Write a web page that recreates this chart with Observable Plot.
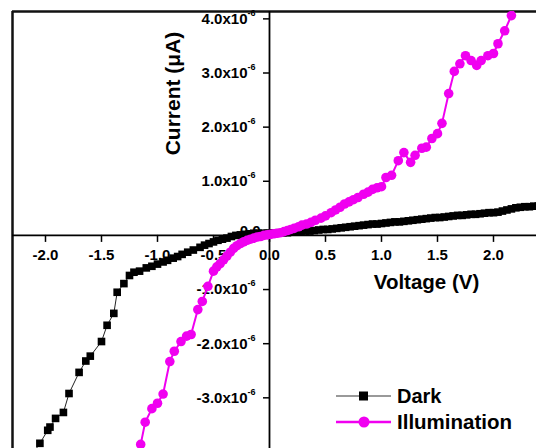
<!DOCTYPE html>
<html><head><meta charset="utf-8">
<script src="https://cdn.jsdelivr.net/npm/d3@7"></script>
<script src="https://cdn.jsdelivr.net/npm/@observablehq/plot@0.6"></script>
<style>
body{margin:0;background:#fff}
#chart{position:relative;width:536px;height:448px;overflow:hidden}
</style>
</head><body><div id="chart"></div>
<script>
// Dark I-V (voltage V, current in units of 1e-6)
const darkV = [-2.12,-2.05,-1.98,-1.96,-1.91,-1.84,-1.79,-1.70,-1.64,-1.60,-1.50,-1.45,-1.39,-1.36,-1.30,-1.25,-1.21,-1.16,-1.10,-1.05,-1.00,-0.95,-0.91,-0.86,-0.82,-0.78,-0.73,-0.68,-0.62,-0.58,-0.54,-0.50,-0.46,-0.42,-0.38,-0.34,-0.30,-0.26,-0.22,-0.18,-0.14,-0.10,-0.06,-0.02,
  0.00,0.04,0.08,0.12,0.16,0.20,0.24,0.28,0.32,0.36,0.40,0.44,0.48,0.52,0.56,0.60,0.64,0.68,0.72,0.76,0.80,0.84,0.88,0.92,0.96,1.00,1.04,1.08,1.12,1.16,1.20,1.24,1.28,1.32,1.36,1.40,1.44,1.48,1.52,1.56,1.60,1.64,1.68,1.72,1.76,1.80,1.84,1.88,1.92,1.96,2.00,2.04,2.08,2.12,2.16,2.20,2.24,2.28,2.32,2.36,2.40];
const darkI = [-4.05,-3.84,-3.60,-3.54,-3.38,-3.27,-2.92,-2.53,-2.32,-2.23,-1.96,-1.66,-1.44,-1.05,-0.89,-0.74,-0.68,-0.66,-0.60,-0.57,-0.53,-0.49,-0.46,-0.42,-0.39,-0.35,-0.31,-0.27,-0.22,-0.18,-0.15,-0.12,-0.09,-0.07,-0.05,-0.02,0.00,0.01,0.02,0.03,0.04,0.04,0.04,0.04,
  0.04,0.04,0.05,0.05,0.05,0.06,0.06,0.07,0.08,0.08,0.09,0.10,0.11,0.11,0.12,0.13,0.14,0.15,0.16,0.17,0.18,0.19,0.20,0.21,0.21,0.22,0.23,0.24,0.25,0.25,0.26,0.27,0.28,0.29,0.30,0.31,0.32,0.33,0.33,0.34,0.35,0.36,0.37,0.37,0.38,0.39,0.39,0.40,0.41,0.42,0.42,0.43,0.45,0.47,0.49,0.51,0.52,0.53,0.53,0.54,0.54];

// Illumination I-V (voltage V, current in units of 1e-6)
const illumV = [-1.20,-1.15,-1.11,-1.05,-1.00,-0.95,-0.89,-0.85,-0.79,-0.74,-0.70,-0.64,-0.60,-0.55,-0.50,-0.47,-0.44,-0.41,-0.38,-0.35,-0.32,-0.29,-0.26,-0.23,-0.20,-0.17,-0.14,-0.11,-0.08,-0.05,-0.02,
  0.01,0.04,0.07,0.10,0.13,0.16,0.19,0.22,0.26,0.29,0.33,0.37,0.41,0.46,0.50,0.55,0.59,0.63,0.67,0.71,0.75,0.79,0.84,0.88,0.92,0.96,1.00,1.04,1.09,1.15,1.20,1.26,1.30,1.36,1.40,1.45,1.50,1.54,1.60,1.65,1.70,1.75,1.80,1.85,1.89,1.95,2.00,2.04,2.10,2.16,2.22];
const illumI = [-4.40,-3.86,-3.45,-3.20,-3.10,-2.93,-2.33,-2.14,-1.96,-1.86,-1.83,-1.37,-1.22,-0.94,-0.66,-0.58,-0.52,-0.45,-0.38,-0.31,-0.24,-0.19,-0.15,-0.12,-0.09,-0.07,-0.05,-0.03,-0.02,0.00,0.01,
  0.02,0.03,0.04,0.05,0.07,0.09,0.11,0.13,0.16,0.19,0.21,0.24,0.28,0.32,0.36,0.42,0.47,0.52,0.58,0.62,0.66,0.70,0.76,0.80,0.85,0.88,0.90,1.07,1.11,1.38,1.53,1.35,1.48,1.61,1.63,1.79,1.88,2.07,2.62,3.03,3.17,3.32,3.23,3.14,3.23,3.32,3.36,3.54,3.78,4.06,4.35];

const seriesNames = ["Dark", "Illumination"];
const xTicks = [-2.0,-1.5,-1.0,-0.5,0.0,0.5,1.0,1.5,2.0];
const xTickLabels = ["-2.0","-1.5","-1.0","-0.5","0.0","0.5","1.0","1.5","2.0"];
const yTicks = [-3,-2,-1,0,1,2,3,4];
const yTickMantissa = ["-3.0x10","-2.0x10","-1.0x10","0.0","1.0x10","2.0x10","3.0x10","4.0x10"];
const yTickExponent = "-6";
const xTitle = "Voltage (V)";
const yTitle = "Current (\u03BCA)";

const dark = darkV.map((v, k) => ({v, i: darkI[k]}));
const illum = illumV.map((v, k) => ({v, i: illumI[k]}));
const xT = xTicks.map((v, k) => ({v, label: xTickLabels[k]}));
const yT = yTicks.map((v, k) => ({v, label: yTickMantissa[k]}));
const yTnz = yT.filter(d => d.v !== 0);
const yT0 = yT.filter(d => d.v === 0);

const MAG = "#f000f0";
const FONT = "Liberation Sans, Arial, Helvetica, sans-serif";

const plot = Plot.plot({
  width: 536, height: 448,
  marginLeft: 12, marginTop: 11, marginRight: 0, marginBottom: 0,
  x: {domain: [-2.2946, 2.384], axis: null},
  y: {domain: [-3.936, 4.136], axis: null},
  style: {fontFamily: FONT, background: "white", color: "black"},
  marks: [
    // frame (left and top edges)
    Plot.ruleX([-2.2946], {stroke: "#111", strokeWidth: 2.5}),
    Plot.ruleY([4.136], {stroke: "#111", strokeWidth: 2.5}),
    // axes through origin
    Plot.ruleY([0], {stroke: "black", strokeWidth: 1.8}),
    Plot.ruleX([0], {stroke: "black", strokeWidth: 1.8}),
    Plot.ruleX(xT, {x: "v", y1: () => 0, y2: () => 0, insetBottom: -7, stroke: "black", strokeWidth: 1.5}),
    Plot.ruleY(yT, {y: "v", x1: () => 0, x2: () => 0, insetLeft: -6, stroke: "black", strokeWidth: 1.5}),
    // tick labels
    Plot.text(xT, {x: "v", y: () => 0, text: "label", dy: 20, fontSize: 15, fontWeight: "bold", fill: "black"}),
    Plot.text(yTnz, {x: () => 0, y: "v", text: "label", textAnchor: "end", dx: -22, fontSize: 15, fontWeight: "bold", fill: "black"}),
    Plot.text(yTnz, {x: () => 0, y: "v", text: () => yTickExponent, textAnchor: "start", dx: -22, dy: -6, fontSize: 9, fontWeight: "bold", fill: "black"}),
    Plot.text(yT0, {x: () => 0, y: "v", text: "label", textAnchor: "end", dx: -9, dy: -4, fontSize: 15, fontWeight: "bold", fill: "black"}),
    // axis titles
    Plot.text([yTitle], {frameAnchor: "top-left", textAnchor: "middle", lineAnchor: "middle", dx: 161, dy: 82, rotate: -90, fontSize: 21, fontWeight: "bold", fill: "black"}),
    Plot.text([xTitle], {frameAnchor: "top-left", textAnchor: "middle", lineAnchor: "middle", dx: 414, dy: 271, fontSize: 20.5, fontWeight: "bold", fill: "black"}),
    // data
    Plot.line(dark, {x: "v", y: "i", stroke: "#222", strokeWidth: 1, clip: true}),
    Plot.dot(dark, {x: "v", y: "i", symbol: "square", r: 4.3, fill: "black", stroke: "none", clip: true}),
    Plot.line(illum, {x: "v", y: "i", stroke: MAG, strokeWidth: 2, clip: true}),
    Plot.dot(illum, {x: "v", y: "i", symbol: "circle", r: 4.8, fill: MAG, stroke: "none", clip: true})
  ]
});
document.getElementById("chart").appendChild(plot);

// legend
const svg = d3.select(plot);
const lg = svg.append("g").attr("font-family", FONT).attr("font-weight", "bold").attr("text-anchor", "start");
const legendItems = [
  {name: seriesNames[0], stroke: "#777", sw: 1.5, fill: "black", shape: "square"},
  {name: seriesNames[1], stroke: MAG, sw: 2.5, fill: MAG, shape: "circle"}
];
legendItems.forEach((it, k) => {
  const y = 396 + k * 26;
  lg.append("line").attr("x1", 336).attr("x2", 391).attr("y1", y).attr("y2", y)
    .attr("stroke", it.stroke).attr("stroke-width", it.sw);
  if (it.shape === "square") {
    lg.append("rect").attr("x", 359).attr("y", y - 4.5).attr("width", 9).attr("height", 9).attr("fill", it.fill);
  } else {
    lg.append("circle").attr("cx", 364).attr("cy", y).attr("r", 5.5).attr("fill", it.fill);
  }
  lg.append("text").attr("x", 397).attr("y", y).attr("dy", "0.36em").attr("text-anchor", "start")
    .attr("font-size", k === 0 ? 20 : 20.5).attr("fill", "black").text(it.name);
});
</script>
</body></html>
